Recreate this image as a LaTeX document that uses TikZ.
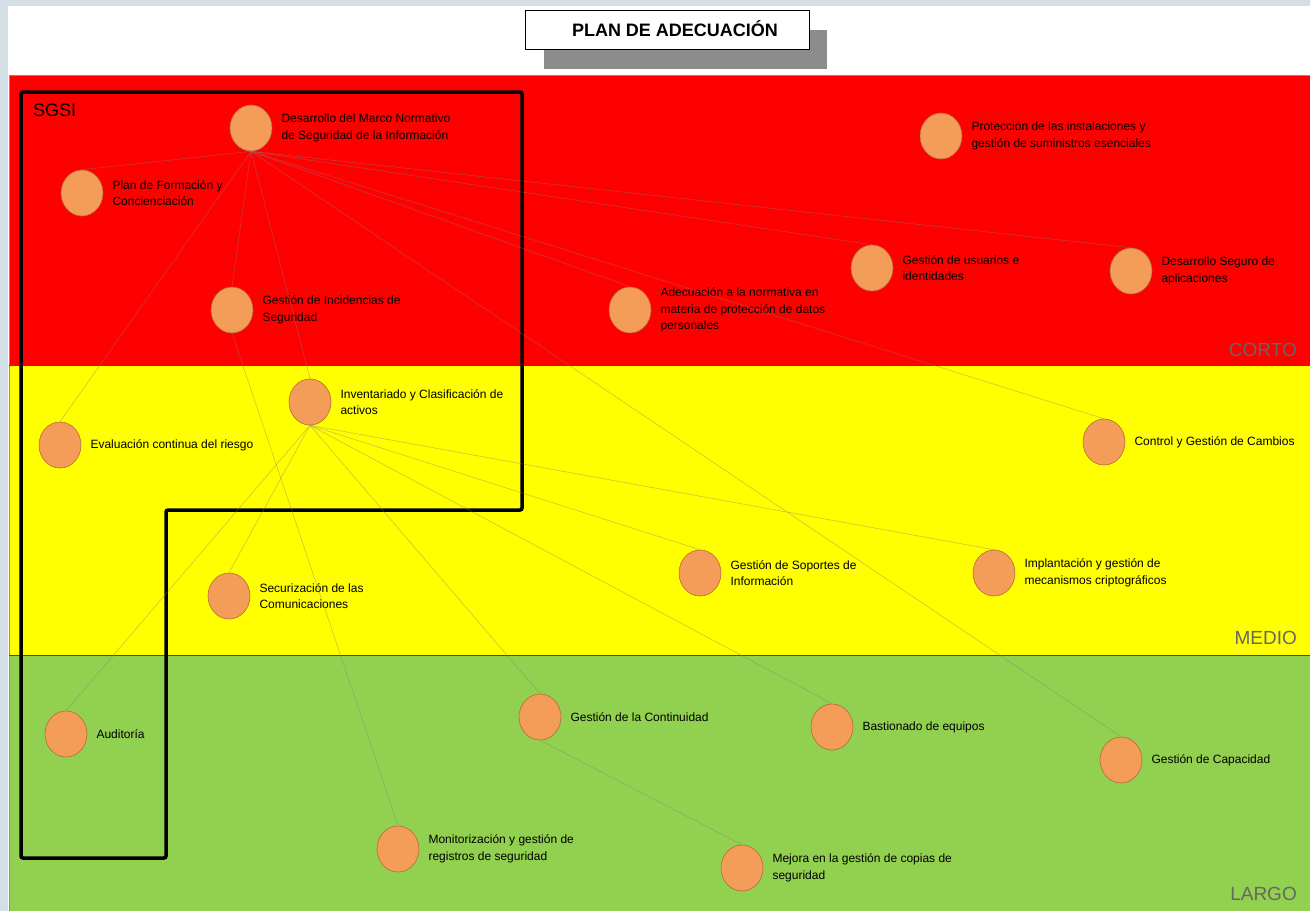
\documentclass[tikz,border=0pt]{standalone}
\usepackage{fontspec}
\setmainfont{Liberation Sans}
\usepackage{tikz}
\usetikzlibrary{shapes.geometric,positioning}

\definecolor{fondo}{RGB}{211,223,229}
\definecolor{corto}{RGB}{255,0,0}
\definecolor{medio}{RGB}{255,255,0}
\definecolor{largo}{RGB}{146,208,80}
\definecolor{bola}{RGB}{244,157,89}
\definecolor{borde}{RGB}{185,105,60}
\definecolor{sombra}{RGB}{140,140,140}

\tikzset{
    tarea/.style={ellipse, fill=bola, draw=borde, line width=0.6pt,
        minimum width=42pt, minimum height=46pt, inner sep=0pt},
    texto/.style={align=left, inner sep=0pt, font=\fontsize{12}{16.5}\selectfont},
    enlace/.style={draw=gray, line width=0.6pt, opacity=0.45},
    plazo/.style={anchor=east, inner sep=0pt, text=black!60, font=\fontsize{19}{19}\selectfont}
}

\begin{document}
\begin{tikzpicture}[x=1pt,y=-1pt]
                    \useasboundingbox (0,0) rectangle (1310,911);
                    \fill[fondo] (0,0) rectangle (1310,911);
                    \fill[white] (8,6) rectangle (1310,911);

                    \fill[corto] (9,75) rectangle (1310,365);
                    \fill[medio] (9,365) rectangle (1310,655);
                    \fill[largo] (9,655) rectangle (1310,911);
                    \draw[black!45, line width=1pt] (1310,75) -- (9,75) -- (9,911);
                    \draw[black!60!olive, line width=0.8pt] (9,365) -- (1310,365);
                    \draw[black!60!olive, line width=0.8pt] (9,655) -- (1310,655);

                    \fill[sombra] (544,30) rectangle (827,69);
                    \draw[fill=white, line width=0.8pt] (525,10) rectangle (809,49);
                    \node[inner sep=0pt, font=\bfseries\fontsize{18}{18}\selectfont] (titulo) at (675,29) {PLAN DE ADECUACIÓN};

                    \node[plazo] (corto) at (1297,350) {CORTO};
                    \node[plazo] (medio) at (1297,638) {MEDIO};
                    \node[plazo] (largo) at (1297,894) {LARGO};

                    \draw[line width=3.5pt, rounded corners=2pt] (21,92) -- (522,92) -- (522,510) -- (166,510) -- (166,858) -- (21,858) -- cycle;
                    \node[inner sep=0pt, anchor=west, font=\fontsize{18}{18}\selectfont] (sgsi) at (33,110) {SGSI};

                    \node[tarea] (marco) at (251,128) {};
                    \node[tarea] (formacion) at (82,193) {};
                    \node[tarea] (proteccion) at (941,136) {};
                    \node[tarea] (usuarios) at (872,268) {};
                    \node[tarea] (seguro) at (1131,271) {};
                    \node[tarea] (incidencias) at (232,310) {};
                    \node[tarea] (adecuacion) at (630,310) {};
                    \node[tarea] (inventario) at (310,402) {};
                    \node[tarea] (evaluacion) at (60,445) {};
                    \node[tarea] (cambios) at (1104,442) {};
                    \node[tarea] (soportes) at (700,573) {};
                    \node[tarea] (cripto) at (994,573) {};
                    \node[tarea] (comunicaciones) at (229,596) {};
                    \node[tarea] (auditoria) at (66,734) {};
                    \node[tarea] (continuidad) at (540,717) {};
                    \node[tarea] (bastionado) at (832,727) {};
                    \node[tarea] (capacidad) at (1121,760) {};
                    \node[tarea] (monitorizacion) at (398,849) {};
                    \node[tarea] (copias) at (742,868) {};

                    \node[texto, right=9pt of marco] (tmarco) {Desarrollo del Marco Normativo\\de Seguridad de la Información};
                    \node[texto, right=9pt of formacion] (tformacion) {Plan de Formación y\\Concienciación};
                    \node[texto, right=9pt of proteccion] (tproteccion) {Protección de las instalaciones y\\gestión de suministros esenciales};
                    \node[texto, right=9pt of usuarios] (tusuarios) {Gestión de usuarios e\\identidades};
                    \node[texto, right=9pt of seguro] (tseguro) {Desarrollo Seguro de\\aplicaciones};
                    \node[texto, right=9pt of incidencias] (tincidencias) {Gestión de Incidencias de\\Seguridad};
                    \node[texto, right=9pt of adecuacion] (tadecuacion) {Adecuación a la normativa en\\materia de protección de datos\\personales};
                    \node[texto, right=9pt of inventario] (tinventario) {Inventariado y Clasificación de\\activos};
                    \node[texto, right=9pt of evaluacion] (tevaluacion) {Evaluación continua del riesgo};
                    \node[texto, right=9pt of cambios] (tcambios) {Control y Gestión de Cambios};
                    \node[texto, right=9pt of soportes] (tsoportes) {Gestión de Soportes de\\Información};
                    \node[texto, right=9pt of cripto] (tcripto) {Implantación y gestión de\\mecanismos criptográficos};
                    \node[texto, right=9pt of comunicaciones] (tcomunicaciones) {Securización de las\\Comunicaciones};
                    \node[texto, right=9pt of auditoria] (tauditoria) {Auditoría};
                    \node[texto, right=9pt of continuidad] (tcontinuidad) {Gestión de la Continuidad};
                    \node[texto, right=9pt of bastionado] (tbastionado) {Bastionado de equipos};
                    \node[texto, right=9pt of capacidad] (tcapacidad) {Gestión de Capacidad};
                    \node[texto, right=9pt of monitorizacion] (tmonitorizacion) {Monitorización y gestión de\\registros de seguridad};
                    \node[texto, right=9pt of copias] (tcopias) {Mejora en la gestión de copias de\\seguridad};

                    \draw[enlace] (marco.south) -- (formacion.north);
                    \draw[enlace] (marco.south) -- (evaluacion.north);
                    \draw[enlace] (marco.south) -- (incidencias.north);
                    \draw[enlace] (marco.south) -- (inventario.north);
                    \draw[enlace] (marco.south) -- (adecuacion.north);
                    \draw[enlace] (marco.south) -- (usuarios.north);
                    \draw[enlace] (marco.south) -- (seguro.north);
                    \draw[enlace] (marco.south) -- (cambios.north);
                    \draw[enlace] (marco.south) -- (capacidad.north);

                    \draw[enlace] (inventario.south) -- (auditoria.north);
                    \draw[enlace] (inventario.south) -- (comunicaciones.north);
                    \draw[enlace] (inventario.south) -- (continuidad.north);
                    \draw[enlace] (inventario.south) -- (bastionado.north);
                    \draw[enlace] (inventario.south) -- (soportes.north);
                    \draw[enlace] (inventario.south) -- (cripto.north);

                    \draw[enlace] (incidencias.south) -- (monitorizacion.north);
                    \draw[enlace] (continuidad.south) -- (copias.north);

                \end{tikzpicture}
\end{document}
